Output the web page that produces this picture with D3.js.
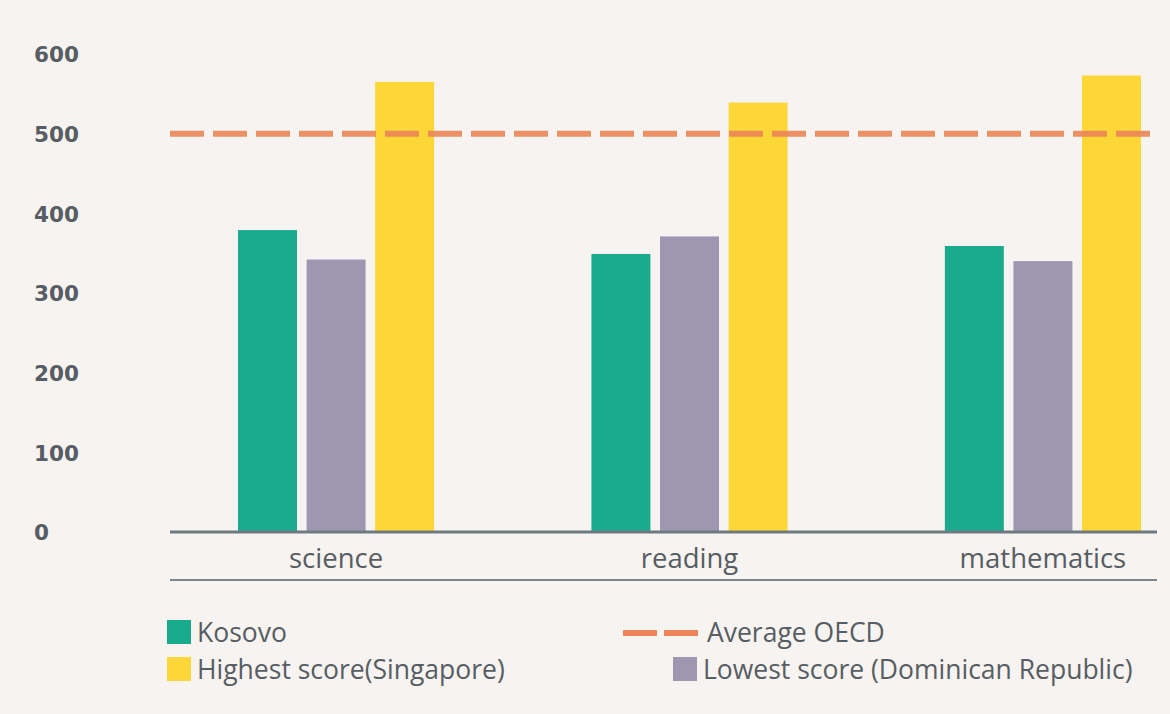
<!DOCTYPE html>
<html>
<head>
<meta charset="utf-8">
<script src="https://cdn.jsdelivr.net/npm/d3@7"></script>
<style>
  html, body { margin: 0; padding: 0; background: #f6f3f0; }
  svg { display: block; }
  .ylab { font-family: "DejaVu Sans", sans-serif; font-weight: bold; font-size: 21.5px; fill: #575d63; }
  .xlab { font-family: "Open Sans", sans-serif; font-size: 27.5px; fill: #575d63; }
  .leg { font-family: "Open Sans", sans-serif; font-size: 26.5px; fill: #575d63; }
</style>
</head>
<body>
<script>
// data
const subjects = ["science", "reading", "mathematics"];
const seriesNames = ["Kosovo", "Lowest score (Dominican Republic)", "Highest score(Singapore)"];
const kosovo = [379, 349, 359];
const lowest = [342, 371, 340];
const highest = [565, 539, 573];
const oecdAverage = 500;
const yTicks = [0, 100, 200, 300, 400, 500, 600];

const colors = {
  "Kosovo": "#1aab8f",
  "Lowest score (Dominican Republic)": "#9e97b1",
  "Highest score(Singapore)": "#fdd638"
};
const oecdColor = "#ec8658";

const rows = subjects.map((s, i) => ({
  subject: s,
  values: [kosovo[i], lowest[i], highest[i]]
}));

const W = 1170, H = 714;
const margin = {top: 54, right: 13, bottom: 182, left: 170};
const width = W - margin.left - margin.right;
const height = H - margin.top - margin.bottom;

const svg = d3.select("body").append("svg")
    .attr("width", W)
    .attr("height", H);

svg.append("rect")
    .attr("width", W)
    .attr("height", H)
    .attr("fill", "#f6f3f0");

const g = svg.append("g")
    .attr("transform", `translate(${margin.left},${margin.top})`);

const x0 = d3.scaleBand()
    .domain(subjects)
    .range([68, width - 16])
    .paddingInner(0.445)
    .paddingOuter(0);

const x1 = d3.scaleBand()
    .domain(seriesNames)
    .range([0, x0.bandwidth()])
    .paddingInner(0.14);

const y = d3.scaleLinear()
    .domain([0, 600])
    .range([height, 0]);

// y axis labels only
const yAxis = g.append("g")
    .call(d3.axisLeft(y).tickValues(yTicks).tickSize(0).tickFormat(d3.format("d")));
yAxis.select(".domain").remove();
yAxis.selectAll("text")
    .attr("class", "ylab")
    .attr("x", 34 - margin.left)
    .attr("dy", "0.36em")
    .style("text-anchor", "start");

// bars
const groups = g.selectAll(".group")
    .data(rows)
  .enter().append("g")
    .attr("class", "group")
    .attr("transform", d => `translate(${x0(d.subject)},0)`);

groups.selectAll("rect")
    .data(d => d.values.map((v, i) => ({name: seriesNames[i], value: v})))
  .enter().append("rect")
    .attr("x", d => x1(d.name))
    .attr("width", x1.bandwidth())
    .attr("y", d => y(d.value))
    .attr("height", d => height - y(d.value))
    .attr("fill", d => colors[d.name]);

// x axis
const xAxis = g.append("g")
    .attr("transform", `translate(0,${height})`)
    .call(d3.axisBottom(x0).tickSize(0).tickSizeOuter(0));
xAxis.select(".domain")
    .attr("stroke", "#6f7a80")
    .attr("stroke-width", 3)
    .attr("d", `M0,0H${width}`);
xAxis.selectAll("text")
    .attr("class", "xlab")
    .attr("y", 0)
    .attr("dy", 36);

g.append("line")
    .attr("x1", 0)
    .attr("x2", width)
    .attr("y1", height + 48)
    .attr("y2", height + 48)
    .attr("stroke", "#7c868c")
    .attr("stroke-width", 2);

// OECD average line
g.append("line")
    .attr("x1", 0)
    .attr("x2", width)
    .attr("y1", y(oecdAverage))
    .attr("y2", y(oecdAverage))
    .attr("stroke", oecdColor)
    .attr("stroke-width", 6)
    .attr("stroke-dasharray", "34 9")
    .attr("opacity", 0.9);

// legend
const legend = svg.append("g");

function swatch(px, py, color, label) {
  legend.append("rect")
      .attr("x", px)
      .attr("y", py)
      .attr("width", 24)
      .attr("height", 24)
      .attr("fill", color);
  legend.append("text")
      .attr("class", "leg")
      .attr("x", px + 30)
      .attr("y", py + 22)
      .text(label);
}

swatch(167, 620, colors[seriesNames[0]], seriesNames[0]);
swatch(167, 657, colors[seriesNames[2]], seriesNames[2]);
swatch(673, 657, colors[seriesNames[1]], seriesNames[1]);

legend.append("line")
    .attr("x1", 623)
    .attr("x2", 698)
    .attr("y1", 633)
    .attr("y2", 633)
    .attr("stroke", oecdColor)
    .attr("stroke-width", 6)
    .attr("stroke-dasharray", "34 7");
legend.append("text")
    .attr("class", "leg")
    .attr("x", 707)
    .attr("y", 642)
    .text("Average OECD");
</script>
</body>
</html>
